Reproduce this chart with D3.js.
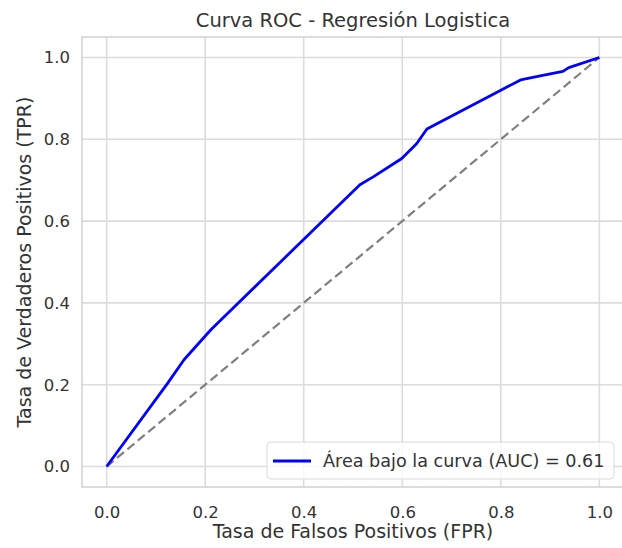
<!DOCTYPE html>
<html lang="es">
<head>
<meta charset="UTF-8">
<script src="https://d3js.org/d3.v7.min.js"></script>
<style>
  body { margin: 0; background: #fff; }
  svg text { font-family: "DejaVu Sans", sans-serif; fill: #333; }
</style>
</head>
<body>
<div id="chart"></div>
<script>
// curva ROC
const fpr = [0.0, 0.124, 0.157, 0.212, 0.514, 0.541, 0.599, 0.629, 0.65, 0.8, 0.84, 0.885, 0.926, 0.938, 1.0];
const tpr = [0.0, 0.204, 0.261, 0.335, 0.689, 0.708, 0.753, 0.789, 0.825, 0.92, 0.945, 0.956, 0.966, 0.975, 1.0];
const ticks = [0.0, 0.2, 0.4, 0.6, 0.8, 1.0];
const auc = 0.61;

const width = 622, height = 548;
const margin = { top: 37, right: -2, bottom: 61, left: 82 };

const svg = d3.select("#chart").append("svg")
    .attr("width", width)
    .attr("height", height);

const x = d3.scaleLinear().domain([-0.05, 1.05]).range([margin.left, width - margin.right]);
const y = d3.scaleLinear().domain([-0.05, 1.05]).range([height - margin.bottom, margin.top]);

// rejilla
svg.append("g")
    .selectAll("line.gx")
    .data(ticks)
    .enter().append("line")
    .attr("x1", d => x(d)).attr("x2", d => x(d))
    .attr("y1", y(-0.05)).attr("y2", y(1.05))
    .attr("stroke", "#dcdcdc").attr("stroke-width", 1.6);

svg.append("g")
    .selectAll("line.gy")
    .data(ticks)
    .enter().append("line")
    .attr("y1", d => y(d)).attr("y2", d => y(d))
    .attr("x1", x(-0.05)).attr("x2", x(1.05))
    .attr("stroke", "#dcdcdc").attr("stroke-width", 1.6);

// marco
svg.append("rect")
    .attr("x", x(-0.05)).attr("y", y(1.05))
    .attr("width", x(1.05) - x(-0.05))
    .attr("height", y(-0.05) - y(1.05))
    .attr("fill", "none")
    .attr("stroke", "#d4d4d4").attr("stroke-width", 1.6);

// ejes
const fmt = d3.format(".1f");
const xAxis = svg.append("g")
    .attr("transform", `translate(0,${y(-0.05)})`)
    .call(d3.axisBottom(x).tickValues(ticks).tickFormat(fmt).tickSize(0).tickPadding(19));
const yAxis = svg.append("g")
    .attr("transform", `translate(${x(-0.05)},0)`)
    .call(d3.axisLeft(y).tickValues(ticks).tickFormat(fmt).tickSize(0).tickPadding(12));
[xAxis, yAxis].forEach(g => {
    g.select(".domain").remove();
    g.selectAll("text").attr("font-size", 16.5).style("fill", "#333");
});

// diagonal de referencia
const line = d3.line().x(d => x(d[0])).y(d => y(d[1]));
svg.append("path")
    .datum([[0, 0], [1, 1]])
    .attr("d", line)
    .attr("fill", "none")
    .attr("stroke", "#808080")
    .attr("stroke-width", 2.2)
    .attr("stroke-dasharray", "9,4.5");

// curva ROC
svg.append("path")
    .datum(fpr.map((v, i) => [v, tpr[i]]))
    .attr("d", line)
    .attr("fill", "none")
    .attr("stroke", "#0000ff")
    .attr("stroke-width", 2.8)
    .attr("stroke-linejoin", "round");

// leyenda
const lg = svg.append("g").attr("transform", "translate(267,442)");
lg.append("rect")
    .attr("width", 347).attr("height", 37)
    .attr("rx", 4)
    .attr("fill", "#fff").attr("fill-opacity", 0.8)
    .attr("stroke", "#d9d9d9").attr("stroke-width", 1);
lg.append("line")
    .attr("x1", 6).attr("x2", 44).attr("y1", 19).attr("y2", 19)
    .attr("stroke", "#0000ff").attr("stroke-width", 2.8);
lg.append("text")
    .attr("x", 56).attr("y", 19).attr("dy", "0.35em")
    .attr("font-size", 17.6)
    .text(`Área bajo la curva (AUC) = ${auc.toFixed(2)}`);

// títulos
svg.append("text")
    .attr("x", (x(-0.05) + x(1.05)) / 2).attr("y", 27)
    .attr("text-anchor", "middle").attr("font-size", 19.5)
    .text("Curva ROC - Regresión Logistica");
svg.append("text")
    .attr("x", (x(-0.05) + x(1.05)) / 2).attr("y", 538)
    .attr("text-anchor", "middle").attr("font-size", 19)
    .text("Tasa de Falsos Positivos (FPR)");
svg.append("text")
    .attr("transform", `translate(31,${(y(-0.05) + y(1.05)) / 2}) rotate(-90)`)
    .attr("text-anchor", "middle").attr("font-size", 19)
    .text("Tasa de Verdaderos Positivos (TPR)");
</script>
</body>
</html>
